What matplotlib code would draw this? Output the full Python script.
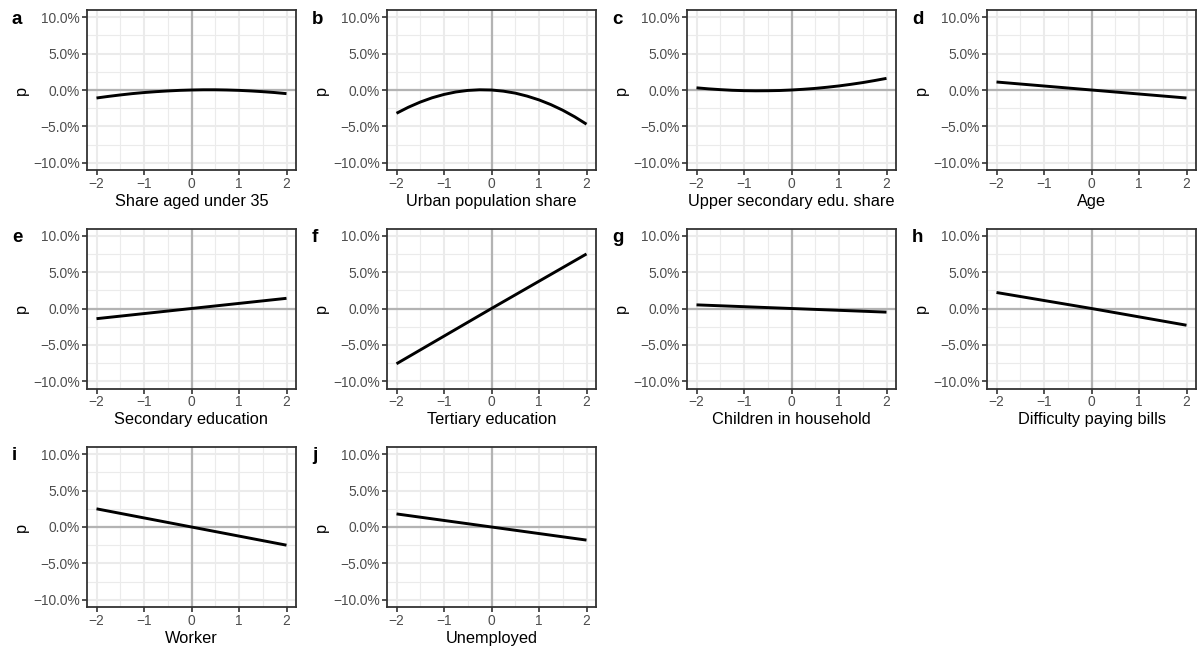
import matplotlib.pyplot as plt
from matplotlib.ticker import FixedLocator, FuncFormatter

plt.rcParams['font.family'] = ['Liberation Sans', 'DejaVu Sans']

# standardised predictor values
x_curve = [-2, -1.75, -1.5, -1.25, -1, -0.75, -0.5, -0.25, 0,
           0.25, 0.5, 0.75, 1, 1.25, 1.5, 1.75, 2]
x_line = [-2, 0, 2]

# effects on p, in percent
share_under35 = [-1.1, -0.88, -0.68, -0.50, -0.35, -0.23, -0.13, -0.05, 0,
                 0.03, 0.03, 0.0, -0.05, -0.13, -0.23, -0.35, -0.5]
urban_share = [-3.2, -2.37, -1.66, -1.07, -0.61, -0.27, -0.06, 0.03, 0,
               -0.16, -0.43, -0.84, -1.36, -2.01, -2.78, -3.68, -4.7]
upper_sec_share = [0.3, 0.16, 0.05, -0.04, -0.09, -0.11, -0.10, -0.07, 0,
                   0.10, 0.22, 0.38, 0.56, 0.78, 1.02, 1.30, 1.6]
age = [1.1, 0, -1.1]
secondary = [-1.4, 0, 1.4]
tertiary = [-7.6, 0, 7.5]
children = [0.5, 0, -0.5]
difficulty = [2.2, 0, -2.3]
worker = [2.5, 0, -2.5]
unemployed = [1.8, 0, -1.8]

panels = [
    ('a', 'Share aged under 35', x_curve, share_under35),
    ('b', 'Urban population share', x_curve, urban_share),
    ('c', 'Upper secondary edu. share', x_curve, upper_sec_share),
    ('d', 'Age', x_line, age),
    ('e', 'Secondary education', x_line, secondary),
    ('f', 'Tertiary education', x_line, tertiary),
    ('g', 'Children in household', x_line, children),
    ('h', 'Difficulty paying bills', x_line, difficulty),
    ('i', 'Worker', x_line, worker),
    ('j', 'Unemployed', x_line, unemployed),
]

W, H = 1202, 653
fig = plt.figure(figsize=(W / 100, H / 100), dpi=100)

grid_col = '#ebebeb'
dark = '#333333'

for k, (tag, label, xs, ys) in enumerate(panels):
    row, col = divmod(k, 4)
    left = 87 + 300 * col
    top = 10 + 218.5 * row
    ax = fig.add_axes([left / W, 1 - (top + 160) / H, 209 / W, 160 / H])
    ax.set_xlim(-2.2, 2.2)
    ax.set_ylim(-0.11, 0.11)

    ax.xaxis.set_major_locator(FixedLocator([-2, -1, 0, 1, 2]))
    ax.xaxis.set_minor_locator(FixedLocator([-1.5, -0.5, 0.5, 1.5]))
    ax.yaxis.set_major_locator(FixedLocator([-0.1, -0.05, 0, 0.05, 0.1]))
    ax.yaxis.set_minor_locator(FixedLocator([-0.075, -0.025, 0.025, 0.075]))
    ax.xaxis.set_major_formatter(FuncFormatter(lambda v, p: f'{v:.0f}'.replace('-', '\u2212')))
    ax.yaxis.set_major_formatter(FuncFormatter(lambda v, p: f'{v * 100:.1f}%'.replace('-', '\u2212')))

    ax.grid(which='major', color=grid_col, linewidth=1.5, zorder=0)
    ax.grid(which='minor', color=grid_col, linewidth=0.8, zorder=0)
    ax.set_axisbelow(True)
    ax.axhline(0, color='#b3b3b3', linewidth=1.6, zorder=1)
    ax.axvline(0, color='#b3b3b3', linewidth=1.6, zorder=1)

    ax.plot(xs, [v / 100 for v in ys], color='black', linewidth=2.1, zorder=3,
            solid_capstyle='butt')

    for s in ax.spines.values():
        s.set_color(dark)
        s.set_linewidth(1.3)
    ax.tick_params(which='major', length=3.5, width=1.2, color=dark,
                   labelcolor='#4d4d4d', labelsize=9.9, pad=1.5)
    ax.tick_params(which='minor', length=0)

    ax.set_xlabel(label, fontsize=11.8, color='black', labelpad=2)
    ax.set_ylabel('p', fontsize=11.8, color='black')
    # y title sits at a fixed distance from the panel edge
    ax.yaxis.set_label_coords(-58 / 209, 0.5)

    fig.text((left - 75) / W, 1 - (top + 0.5) / H, tag, fontsize=13.5,
             fontweight='bold', ha='left', va='top')

fig.savefig('out.png', dpi=100)
